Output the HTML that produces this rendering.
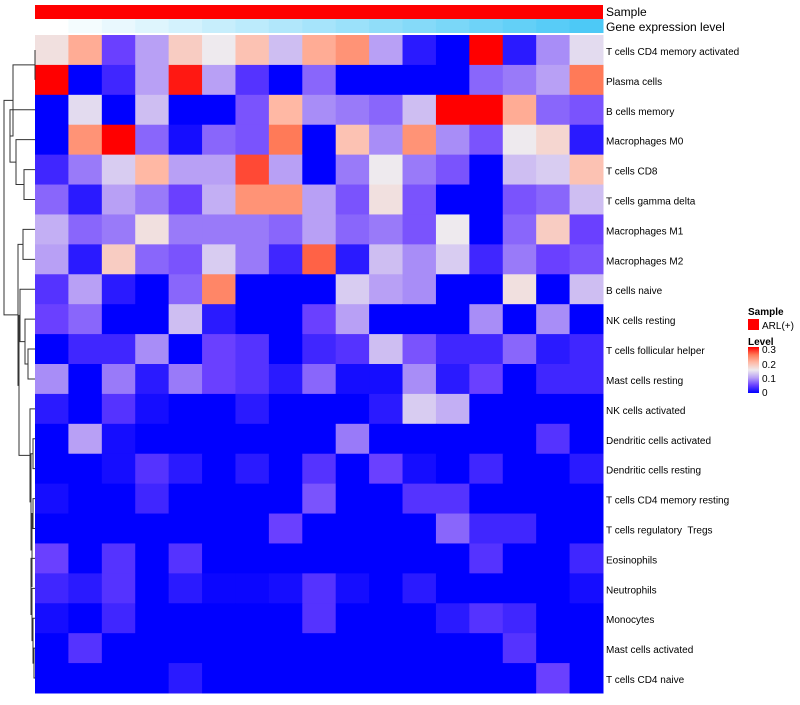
<!DOCTYPE html>
<html><head><meta charset="utf-8"><style>
body{margin:0;background:#fff;font-family:"Liberation Sans",sans-serif}
svg text{font-family:"Liberation Sans",sans-serif;white-space:pre}
</style></head><body>
<svg id="chart" width="800" height="700">
<g id="cells"></g>
<g id="anno"></g>
<g id="labels"></g>
<g id="dendro" stroke="#333" stroke-width="1" fill="none"></g>
<g>
<text x="748" y="315" font-size="10" font-weight="bold">Sample</text>
<rect x="748" y="319" width="11" height="11" fill="#ff0000"/>
<text x="762" y="329" font-size="10">ARL(+)</text>
<text x="748" y="345" font-size="10" font-weight="bold">Level</text>
<defs><linearGradient id="lg" x1="0" y1="1" x2="0" y2="0">
<stop offset="0" stop-color="#0000ff"/><stop offset="0.17" stop-color="#6a40ff"/><stop offset="0.33" stop-color="#b8a0f5"/><stop offset="0.5" stop-color="#eeeaee"/><stop offset="0.67" stop-color="#ffb8a4"/><stop offset="0.83" stop-color="#ff7a58"/><stop offset="1" stop-color="#ff0000"/></linearGradient></defs>
<rect x="748" y="347" width="11" height="46" fill="url(#lg)"/>
<text x="762" y="353" font-size="10">0.3</text>
<text x="762" y="368" font-size="10">0.2</text>
<text x="762" y="382" font-size="10">0.1</text>
<text x="762" y="396" font-size="10">0</text>
</g>
</svg>
<script>
const rowNames=["T cells CD4 memory activated","Plasma cells","B cells memory","Macrophages M0","T cells CD8","T cells gamma delta","Macrophages M1","Macrophages M2","B cells naive","NK cells resting","T cells follicular helper","Mast cells resting","NK cells activated","Dendritic cells activated","Dendritic cells resting","T cells CD4 memory resting","T cells regulatory  Tregs","Eosinophils","Neutrophils","Monocytes","Mast cells activated","T cells CD4 naive"];
const values=[
[.16,.21,.05,.10,.18,.15,.19,.12,.21,.23,.10,.02,0,.3,.02,.09,.14],
[.3,0,.03,.10,.29,.10,.04,0,.07,0,0,0,0,.07,.08,.10,.25],
[0,.14,0,.12,0,0,.06,.20,.09,.08,.07,.12,.3,.3,.21,.07,.06],
[0,.23,.3,.07,.01,.07,.06,.25,0,.19,.09,.23,.09,.06,.15,.17,.02],
[.03,.08,.13,.20,.10,.10,.27,.10,0,.08,.15,.08,.06,0,.12,.13,.19],
[.07,.02,.10,.08,.05,.11,.23,.23,.10,.06,.16,.06,0,0,.06,.07,.12],
[.11,.07,.08,.16,.08,.08,.08,.07,.10,.07,.08,.06,.15,0,.07,.18,.05],
[.10,.02,.18,.07,.06,.13,.08,.03,.26,.02,.12,.09,.13,.03,.08,.05,.06],
[.04,.10,.02,0,.07,.24,0,0,0,.13,.10,.09,0,0,.16,0,.12],
[.05,.07,0,0,.12,.02,0,0,.05,.10,0,0,0,.09,0,.09,0],
[0,.03,.03,.09,0,.05,.04,0,.03,.04,.12,.06,.03,.03,.07,.02,.03],
[.09,0,.08,.02,.08,.05,.04,.02,.07,.01,.01,.09,.02,.05,0,.03,.03],
[.02,0,.04,.01,0,0,.02,0,0,0,.02,.13,.11,0,0,0,0],
[0,.10,.01,0,0,0,0,0,0,.08,0,0,0,0,0,.04,0],
[0,0,.01,.04,.02,0,.02,0,.04,0,.05,.01,0,.03,0,0,.02],
[.01,0,0,.03,0,0,0,0,.06,0,0,.04,.04,0,0,0,0],
[0,0,0,0,0,0,0,.05,0,0,0,0,.07,.03,.03,0,0],
[.05,0,.04,0,.04,0,0,0,0,0,0,0,0,.04,0,0,.03],
[.03,.02,.04,0,.02,.005,.005,.01,.04,.01,0,.02,0,0,0,0,.01],
[.01,0,.03,0,0,0,0,0,.04,0,0,0,.02,.04,.03,0,0],
[0,.04,0,0,0,0,0,0,0,0,0,0,0,0,.04,0,0],
[0,0,0,0,.02,0,0,0,0,0,0,0,0,0,0,.05,0]];
const geneLevel=[0,1,2,3,4,5,6,7,8,9,10,11,12,13,14,15,16];
const NS="http://www.w3.org/2000/svg";
const X0=35,X1=603,Y0=35,Y1=693,nC=17,nR=22;
const cw=(X1-X0)/nC,rh=(Y1-Y0)/nR;
const xOf=c=>X0+c*cw, yOf=r=>Y0+r*rh;
const stops=[[0,[0,0,255]],[.05,[106,64,255]],[.1,[184,160,245]],[.15,[238,234,238]],[.2,[255,184,164]],[.25,[255,122,88]],[.3,[255,0,0]]];
function col(v){v=Math.max(0,Math.min(.3,v));for(let i=1;i<stops.length;i++){if(v<=stops[i][0]){const a=stops[i-1],b=stops[i],t=(v-a[0])/(b[0]-a[0]);return "rgb("+a[1].map((x,k)=>Math.round(x+(b[1][k]-x)*t)).join(",")+")";}}return "rgb(255,0,0)";}
function mk(tag,at,parent){const e=document.createElementNS(NS,tag);for(const k in at)e.setAttribute(k,at[k]);parent.appendChild(e);return e;}
const cells=document.getElementById('cells');
values.forEach((row,r)=>row.forEach((v,c)=>{
const e=mk('rect',{x:xOf(c),y:yOf(r),width:cw+0.5,height:rh+0.5,fill:col(v)},cells);


}));
const anno=document.getElementById('anno');
const sb=mk('rect',{x:X0,y:5,width:X1-X0,height:14,fill:'#ff0000'},anno);


const gmax=Math.max(...geneLevel);
geneLevel.forEach((g,c)=>{const t=g/gmax;
const e=mk('rect',{x:xOf(c),y:19,width:cw+0.5,height:14,fill:"rgb("+[255+(77-255)*t,255+(201-255)*t,255+(246-255)*t].map(Math.round).join(",")+")"},anno);

});
let t1=mk('text',{x:606,y:16,'font-size':12},anno);t1.textContent='Sample';


let t2=mk('text',{x:606,y:31,'font-size':12},anno);t2.textContent='Gene expression level';


const labels=document.getElementById('labels');
rowNames.forEach((n,r)=>{const e=mk('text',{x:606,y:yOf(r)+rh/2+5,'font-size':10},labels);e.textContent=n;

});
const A=[35,0,1],B=[24,4,5],C=[16,3,B],D=[10,2,C];
const E=[23,6,7],G=[20,8,[25,9,[28,10,11]]];
const H=[30,12,[31,[33,13,14],[32,[33,15,16],[31,17,[32,18,[33,19,[34,20,21]]]]]]];
const tree=[4,[13,A,D],[18,E,[19,G,H]]];
const dg=document.getElementById('dendro');
function draw(n){if(typeof n==='number')return [yOf(n)+rh/2,X0];
const a=draw(n[1]),b=draw(n[2]),x=n[0];
const p=mk('path',{d:`M${a[1]},${a[0]}H${x}V${b[0]}H${b[1]}`},dg);


return [(a[0]+b[0])/2,x];}
draw(tree);
</script>
</body></html>
